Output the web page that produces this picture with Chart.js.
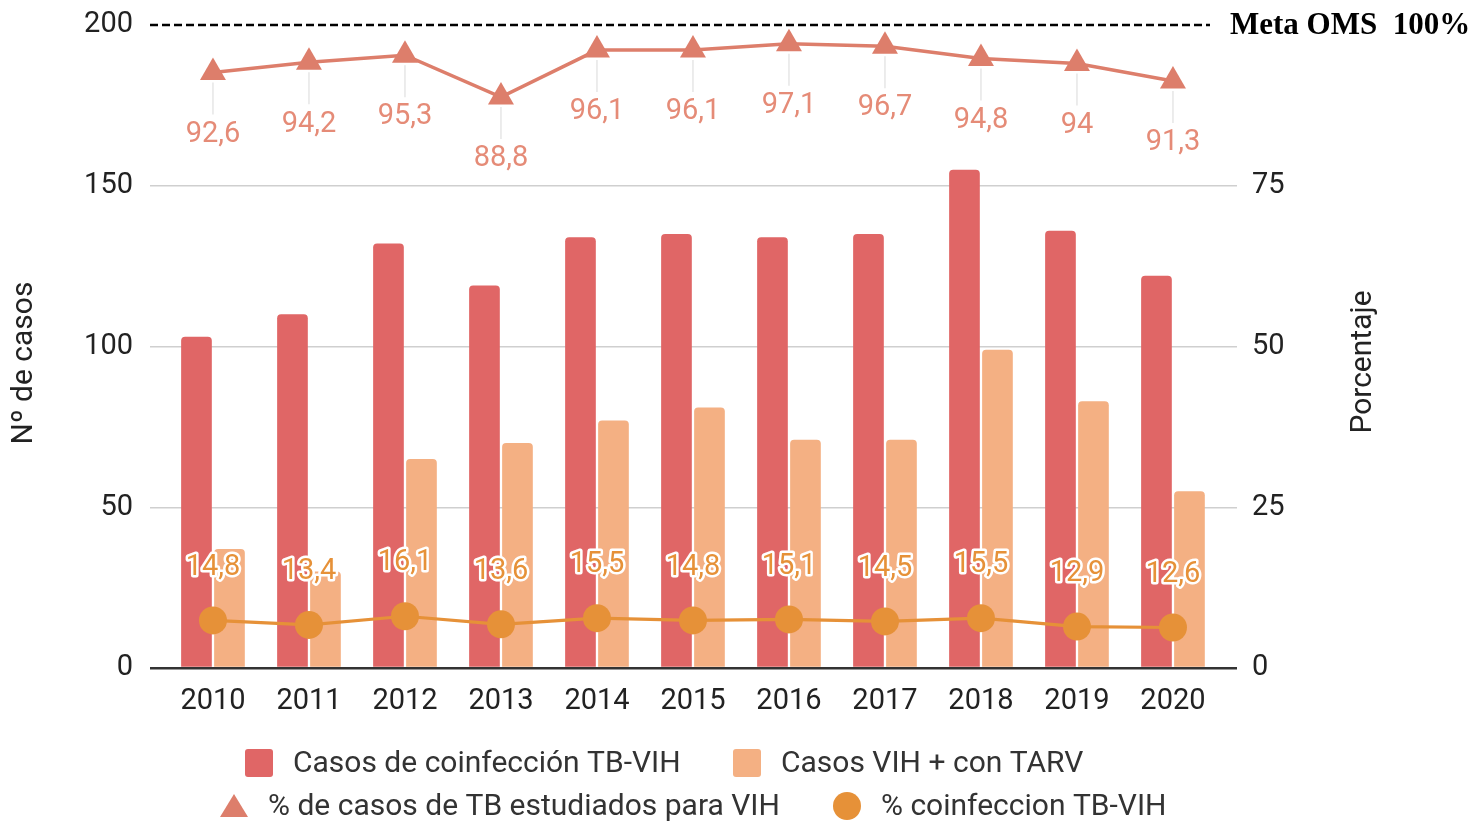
<!DOCTYPE html>
<html>
<head>
<meta charset="utf-8">
<script src="https://cdn.jsdelivr.net/npm/chart.js@4/dist/chart.umd.min.js"></script>
<style>
html,body{margin:0;padding:0;background:#fff;}
#wrap{position:relative;width:1481px;height:821px;}
</style>
</head>
<body>
<div id="wrap"><canvas id="c"></canvas></div>
<script>
// ---- data ----
const years = ['2010','2011','2012','2013','2014','2015','2016','2017','2018','2019','2020'];
const casosCoinfeccion = [103, 110, 132, 119, 134, 135, 134, 135, 155, 136, 122];
const casosTarv = [37, 30, 65, 70, 77, 81, 71, 71, 99, 83, 55];
const pctEstudiados = [92.6, 94.2, 95.3, 88.8, 96.1, 96.1, 97.1, 96.7, 94.8, 94, 91.3];
const pctCoinfeccion = [14.8, 13.4, 16.1, 13.6, 15.5, 14.8, 15.1, 14.5, 15.5, 12.9, 12.6];
const leftTicks = [0, 50, 100, 150, 200];
const rightTicks = [0, 25, 50, 75];
const seriesNames = ['Casos de coinfección TB-VIH', 'Casos VIH + con TARV', '% de casos de TB estudiados para VIH', '% coinfeccion TB-VIH'];
const metaValue = 200;
const metaLabel = 'Meta OMS  100%';
const leftTitle = 'Nº de casos';
const rightTitle = 'Porcentaje';

// ---- style ----
const C_RED = '#e06666';
const C_ORANGE_BAR = '#f4b083';
const C_TRI = '#dd7e6b';
const C_TRI_LABEL = '#e58b77';
const C_COINF = '#e69138';
const TXT = '#222';
const FONT = 'Roboto';

const fmt = v => String(v).replace('.', ',');

const custom = {
  id: 'custom',
  beforeDatasetsDraw(chart) {
    const {ctx, chartArea, scales} = chart;
    const y = scales.y.getPixelForValue(metaValue);
    ctx.save();
    ctx.strokeStyle = '#000';
    ctx.lineWidth = 2.5;
    ctx.setLineDash([8, 4]);
    ctx.beginPath();
    ctx.moveTo(chartArea.left, y);
    ctx.lineTo(chartArea.right - 27, y);
    ctx.stroke();
    ctx.restore();
    // leader lines for % estudiados
    const meta = chart.getDatasetMeta(2);
    ctx.save();
    ctx.strokeStyle = '#e6e6e6';
    ctx.lineWidth = 1.5;
    meta.data.forEach(p => {
      ctx.beginPath();
      ctx.moveTo(p.x, p.y + 10);
      ctx.lineTo(p.x, p.y + 42);
      ctx.stroke();
    });
    ctx.restore();
  },
  afterDatasetsDraw(chart) {
    const {ctx} = chart;
    ctx.save();
    ctx.font = `29px ${FONT}`;
    ctx.textAlign = 'center';
    ctx.textBaseline = 'middle';
    // % estudiados labels below
    const m2 = chart.getDatasetMeta(2);
    ctx.fillStyle = C_TRI_LABEL;
    m2.data.forEach((p, i) => {
      ctx.fillText(fmt(pctEstudiados[i]), p.x, p.y + 62);
    });
    // % coinfeccion labels above with white halo
    const m3 = chart.getDatasetMeta(3);
    ctx.lineJoin = 'round';
    ctx.lineWidth = 5;
    ctx.strokeStyle = '#fff';
    ctx.fillStyle = C_COINF;
    m3.data.forEach((p, i) => {
      const t = fmt(pctCoinfeccion[i]);
      ctx.strokeText(t, p.x, p.y - 53);
      ctx.fillText(t, p.x, p.y - 53);
    });
    ctx.restore();
  },
  afterDraw(chart) {
    const {ctx, scales} = chart;
    ctx.save();
    // axis titles
    ctx.fillStyle = TXT;
    ctx.font = `30px ${FONT}`;
    ctx.textAlign = 'center';
    ctx.textBaseline = 'middle';
    ctx.save(); ctx.translate(24, 363); ctx.rotate(-Math.PI / 2); ctx.fillText(leftTitle, 0, 0); ctx.restore();
    ctx.save(); ctx.translate(1363, 362); ctx.rotate(-Math.PI / 2); ctx.fillText(rightTitle, 0, 0); ctx.restore();
    // meta label
    ctx.fillStyle = '#000';
    ctx.font = `bold 31px "Liberation Serif"`;
    ctx.textAlign = 'left';
    ctx.fillText(metaLabel, 1230, scales.y.getPixelForValue(metaValue) + 1);
    // legend
    ctx.font = `30px ${FONT}`;
    const ds = chart.data.datasets;
    const rounded = (x, y, w, h, r) => {
      ctx.beginPath();
      ctx.moveTo(x + r, y); ctx.lineTo(x + w - r, y); ctx.quadraticCurveTo(x + w, y, x + w, y + r);
      ctx.lineTo(x + w, y + h - r); ctx.quadraticCurveTo(x + w, y + h, x + w - r, y + h);
      ctx.lineTo(x + r, y + h); ctx.quadraticCurveTo(x, y + h, x, y + h - r);
      ctx.lineTo(x, y + r); ctx.quadraticCurveTo(x, y, x + r, y); ctx.closePath(); ctx.fill();
    };
    const items = [
      {x: 245, y: 763, kind: 'square', color: ds[0].backgroundColor, text: seriesNames[0]},
      {x: 733, y: 763, kind: 'square', color: ds[1].backgroundColor, text: seriesNames[1]},
      {x: 220, y: 806, kind: 'triangle', color: ds[2].pointBackgroundColor, text: seriesNames[2]},
      {x: 833, y: 806, kind: 'circle', color: ds[3].pointBackgroundColor, text: seriesNames[3]}
    ];
    items.forEach(it => {
      ctx.fillStyle = it.color;
      if (it.kind === 'square') {
        rounded(it.x, it.y - 14, 28, 28, 3);
      } else if (it.kind === 'triangle') {
        ctx.beginPath();
        ctx.moveTo(it.x + 14, it.y - 12);
        ctx.lineTo(it.x + 28, it.y + 11);
        ctx.lineTo(it.x, it.y + 11);
        ctx.closePath(); ctx.fill();
      } else {
        ctx.beginPath(); ctx.arc(it.x + 14, it.y, 14, 0, Math.PI * 2); ctx.fill();
      }
      ctx.fillStyle = '#333';
      ctx.textAlign = 'left';
      ctx.fillText(it.text, it.x + 48, it.y + 1);
    });
    ctx.restore();
  }
};

const ctx = document.getElementById('c').getContext('2d');
new Chart(ctx, {
  data: {
    labels: years,
    datasets: [
      {type: 'bar', label: seriesNames[0], data: casosCoinfeccion, backgroundColor: C_RED, yAxisID: 'y', order: 2,
       categoryPercentage: 0.6875, barPercentage: 0.93, borderRadius: 4, borderSkipped: 'start'},
      {type: 'bar', label: seriesNames[1], data: casosTarv, backgroundColor: C_ORANGE_BAR, yAxisID: 'y', order: 2,
       categoryPercentage: 0.6875, barPercentage: 0.93, borderRadius: 4, borderSkipped: 'start'},
      {type: 'line', label: seriesNames[2], data: pctEstudiados, yAxisID: 'y1', order: 0,
       borderColor: C_TRI, borderWidth: 3.5, pointStyle: 'triangle', pointRadius: 15, pointBorderWidth: 0,
       pointBackgroundColor: C_TRI, pointBorderColor: C_TRI, tension: 0},
      {type: 'line', label: seriesNames[3], data: pctCoinfeccion, yAxisID: 'y', order: 0,
       borderColor: C_COINF, borderWidth: 3.2, pointStyle: 'circle', pointRadius: 14, pointBorderWidth: 0,
       pointBackgroundColor: C_COINF, pointBorderColor: C_COINF, tension: 0}
    ]
  },
  options: {
    responsive: true,
    maintainAspectRatio: false,
    animation: false,
    devicePixelRatio: 1,
    layout: {padding: {top: 25, left: 0, right: 0, bottom: 0}},
    plugins: {legend: {display: false}, tooltip: {enabled: false}},
    scales: {
      x: {
        type: 'category',
        offset: true,
        grid: {display: false},
        border: {display: false},
        ticks: {color: TXT, font: {family: FONT, size: 29}, padding: 8, maxRotation: 0, autoSkip: false},
        afterBuildTicks: s => { s._startValue = -0.656; s._valueRange = 11.323; },
        afterFit: s => { s.height = 153; s.paddingLeft = 0; s.paddingRight = 0; }
      },
      y: {
        position: 'left',
        min: 0, max: 200,
        afterBuildTicks: s => { s.ticks = leftTicks.map(v => ({value: v})); },
        afterFit: s => { s.width = 150; s.paddingTop = 0; s.paddingBottom = 0; },
        border: {display: false},
        grid: {
          drawTicks: false,
          color: c => c.tick.value === 0 ? '#333' : (c.tick.value === metaValue ? 'rgba(0,0,0,0)' : '#cfcfcf'),
          lineWidth: c => c.tick.value === 0 ? 2.5 : 1.5
        },
        ticks: {color: TXT, font: {family: FONT, size: 29}, padding: 17}
      },
      y1: {
        position: 'right',
        min: 0, max: 100,
        afterBuildTicks: s => { s.ticks = rightTicks.map(v => ({value: v})); },
        afterFit: s => { s.width = 244; s.paddingTop = 0; s.paddingBottom = 0; },
        border: {display: false},
        grid: {display: false, drawTicks: false},
        ticks: {color: TXT, font: {family: FONT, size: 29}, padding: 15}
      }
    }
  },
  plugins: [custom]
});
</script>
</body>
</html>
